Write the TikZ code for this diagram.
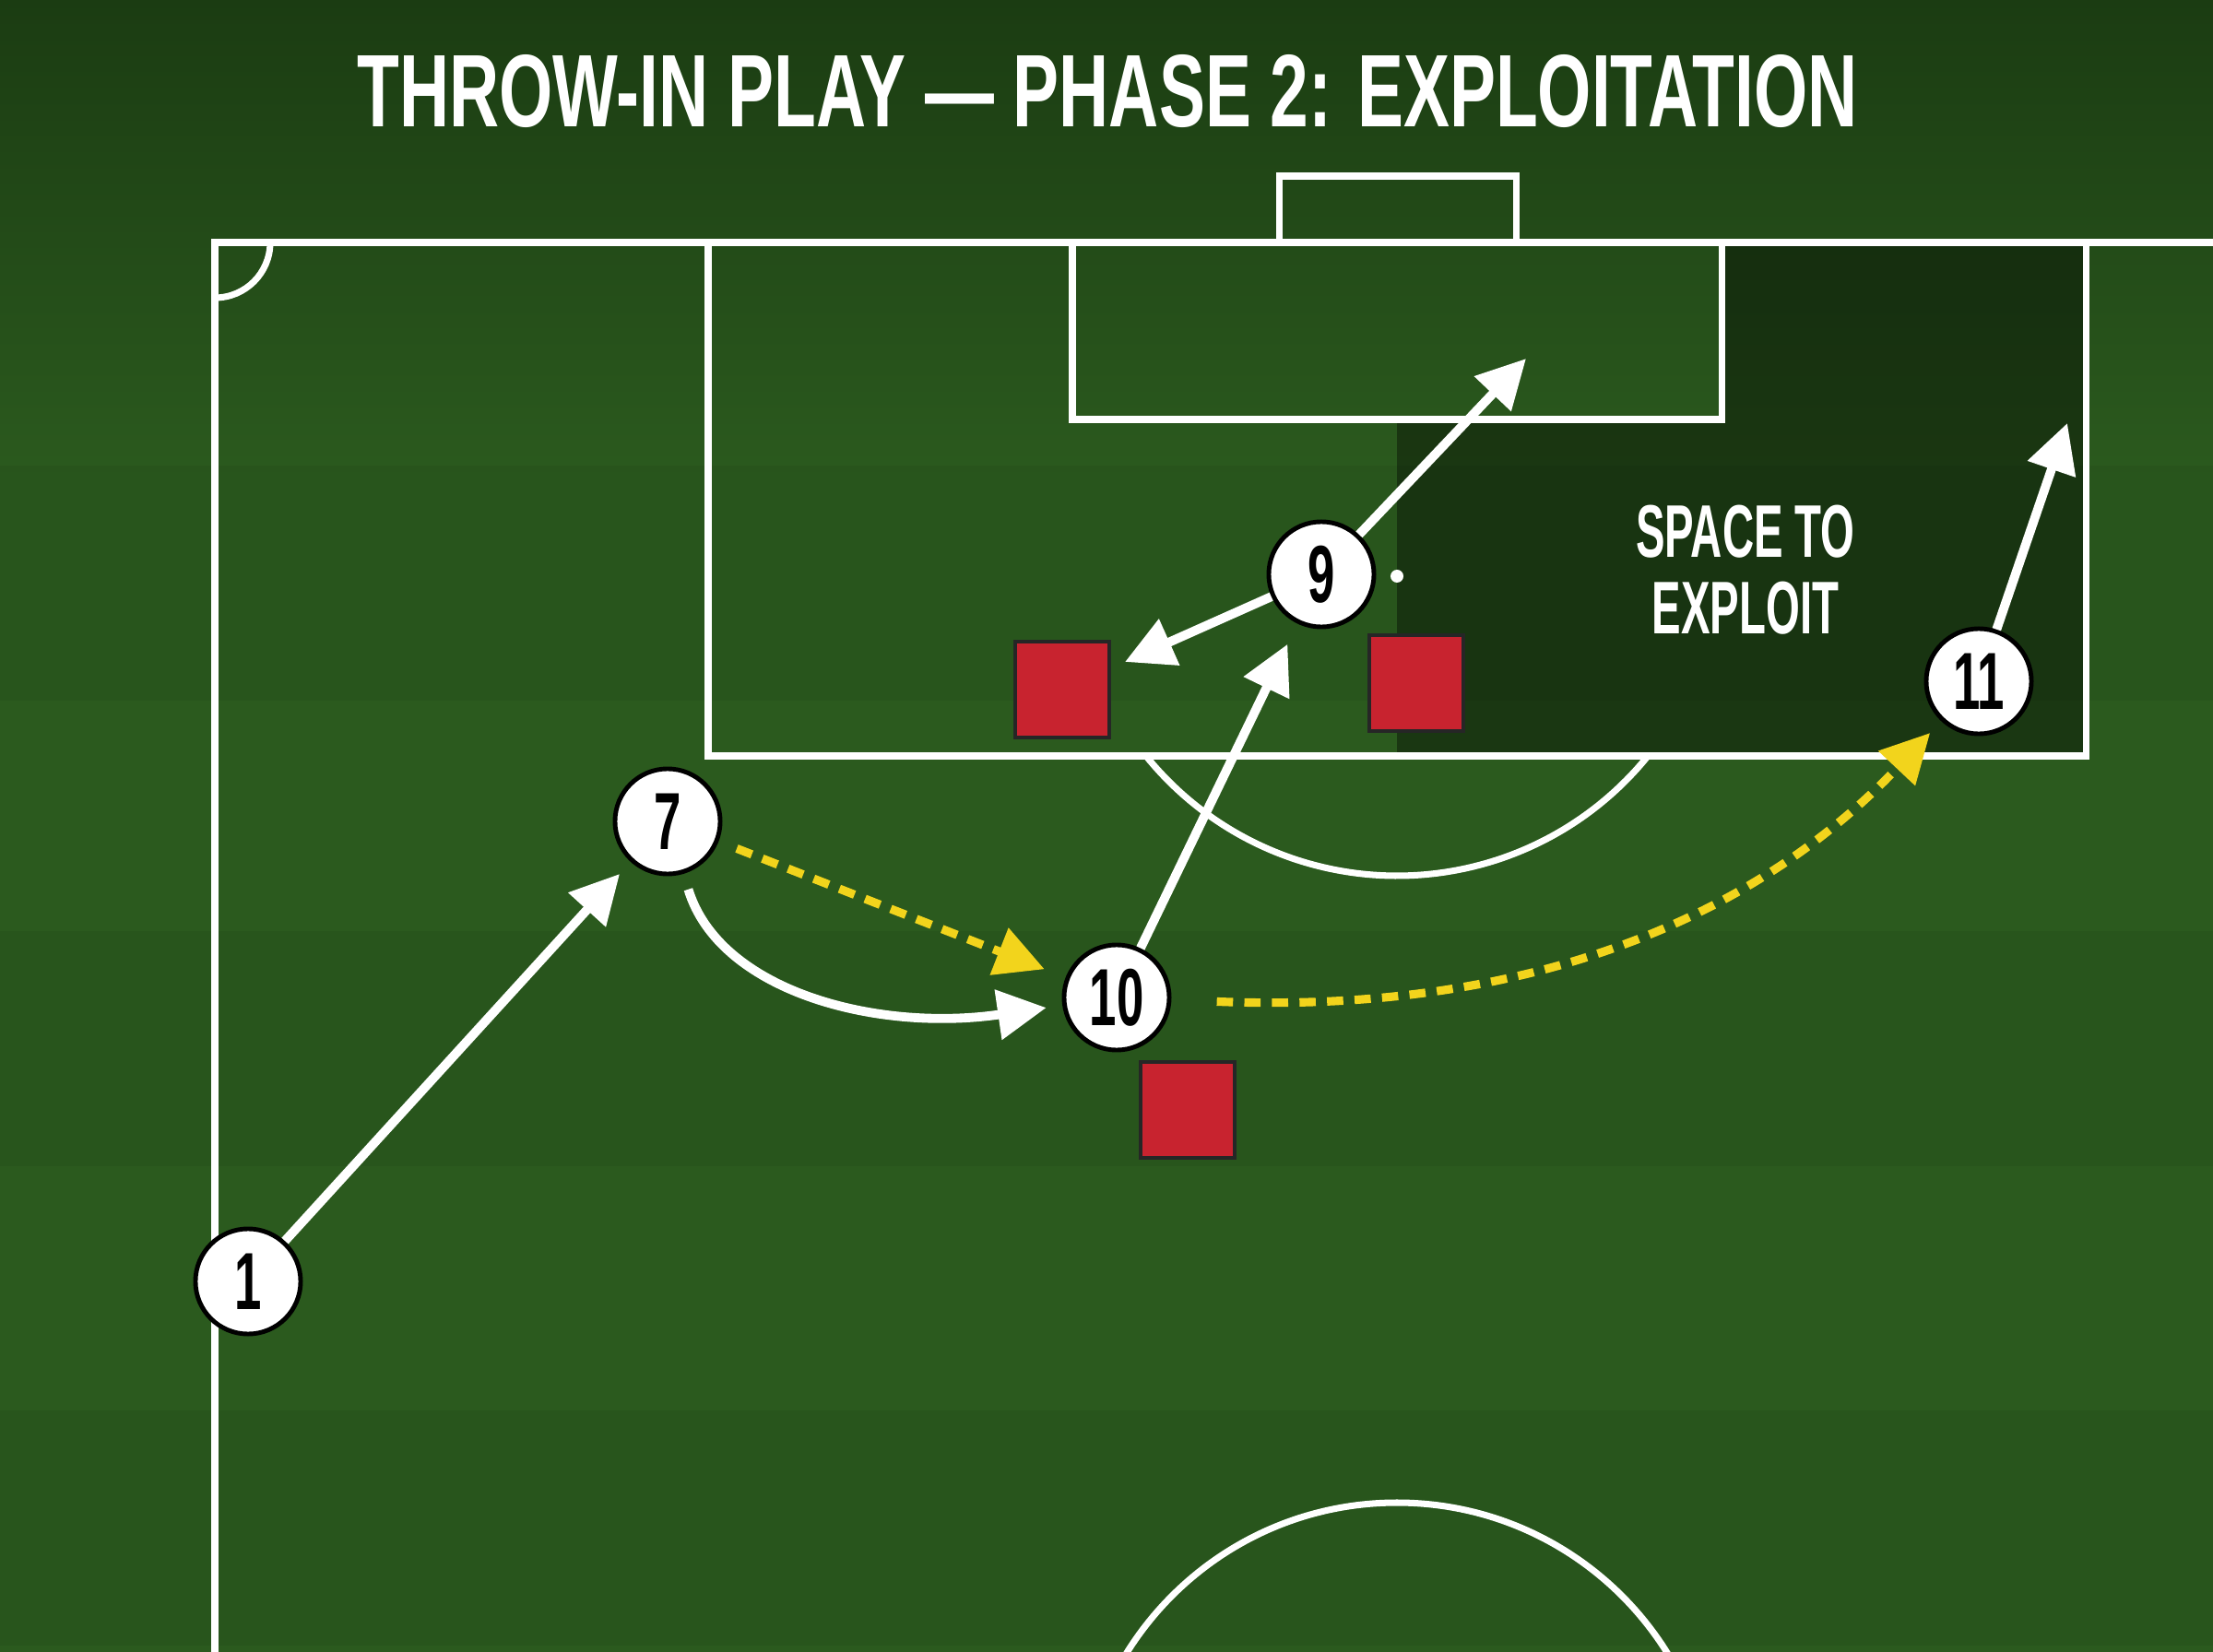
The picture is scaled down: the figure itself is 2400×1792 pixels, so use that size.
\documentclass[tikz,border=0pt]{standalone}
\usepackage{fontspec}
\setmainfont{Liberation Sans}
\usetikzlibrary{arrows.meta}
\definecolor{fieldgreen}{HTML}{2B5A1E}
\definecolor{topgreen}{HTML}{1B3C12}
\definecolor{passyellow}{HTML}{F2D41C}
\definecolor{defred}{HTML}{C8232F}
\newcommand{\narrow}[2]{\scalebox{#1}[1]{#2}}

\begin{document}
\begin{tikzpicture}[x=0.01cm,y=-0.01cm,
    pitch/.style={white,line width=2pt},
    player/.style={circle,fill=white,draw=black,line width=1.4pt,minimum size=1.14cm,inner sep=0pt,font=\fontsize{25}{25}\selectfont\bfseries},
    defender/.style={rectangle,fill=defred,draw=black!85,line width=1.2pt,minimum width=1.02cm,minimum height=1.04cm},
    run/.style={white,line width=2.8pt,-{Triangle[length=15pt,width=15pt]}},
    pass/.style={passyellow,line width=2.6pt,dash pattern=on 5pt off 3.5pt,-{Triangle[length=15pt,width=15pt]}}]
  \useasboundingbox (0,0) rectangle (2400,1792);
  \clip (0,0) rectangle (2400,1792);
  \fill[fieldgreen] (0,0) rectangle (2400,1792);
  \shade[top color=topgreen,bottom color=fieldgreen] (0,0) rectangle (2400,520);
  \foreach \y in {505,1010,1530}
    \fill[black,opacity=0.05] (0,\y) rectangle (2400,\y+255);
  \fill[black,opacity=0.38] (1515,455) -- (1867,455) -- (1867,263) -- (2262,263) -- (2262,820) -- (1515,820) -- cycle;

  \draw[pitch] (233,1792) -- (233,263) -- (2400,263);
  \draw[pitch] (293,263) arc[start angle=0,end angle=90,radius=60];
  \draw[pitch] (768,263) rectangle (2262,820);
  \draw[pitch] (1163,263) rectangle (1867,455);
  \draw[pitch] (1387,263) -- (1387,191) -- (1644,191) -- (1644,263);
  \draw[pitch] (1515,600) ++(38.94:350) arc[start angle=38.94,end angle=141.06,radius=350];
  \fill[white] (1515,625) circle[radius=7];
  \draw[pitch] (1515,1975) circle[radius=345];

  \node[white] (title) at (1201,99) {\fontsize{31.8}{32}\selectfont\bfseries\narrow{0.67}{THROW-IN PLAY — PHASE 2: EXPLOITATION}};
  \node[white,align=center,font=\fontsize{23}{23.6}\selectfont\bfseries] (space) at (1893,618) {\narrow{0.585}{SPACE TO}\\\narrow{0.585}{EXPLOIT}};

  \node[defender] (d1) at (1152,748) {};
  \node[defender] (d2) at (1536,741) {};
  \node[defender] (d3) at (1288,1204) {};

  \node[player] (p1) at (269,1390) {\narrow{0.6}{1}};
  \node[player] (p7) at (724,891) {\narrow{0.6}{7}};
  \node[player] (p10) at (1211,1082) {\narrow{0.6}{10}};
  \node[player] (p9) at (1433,623) {\narrow{0.6}{9}};
  \node[player] (p11) at (2146,739) {\narrow{0.6}{11}};

  \coordinate (t9a) at (1220,718);
  \coordinate (t9b) at (1655,389);
  \coordinate (t11) at (2242,459);

  \draw[run,shorten >=5pt] (p1) -- (p7);
  \draw[run,shorten <=5pt,shorten >=5pt] (p7) .. controls (780,1075) and (950,1120) .. (p10);
  \draw[pass,shorten <=6pt,shorten >=7pt] (p7) -- (p10);
  \draw[run,shorten >=7pt] (p10) -- (p9);
  \draw[run] (p9) -- (t9a);
  \draw[run] (p9) -- (t9b);
  \draw[run] (p11) -- (t11);
  \draw[pass,shorten <=14pt,shorten >=5pt] (p10) .. controls (1650,1100) and (1900,1000) .. (p11);
\end{tikzpicture}
\end{document}
